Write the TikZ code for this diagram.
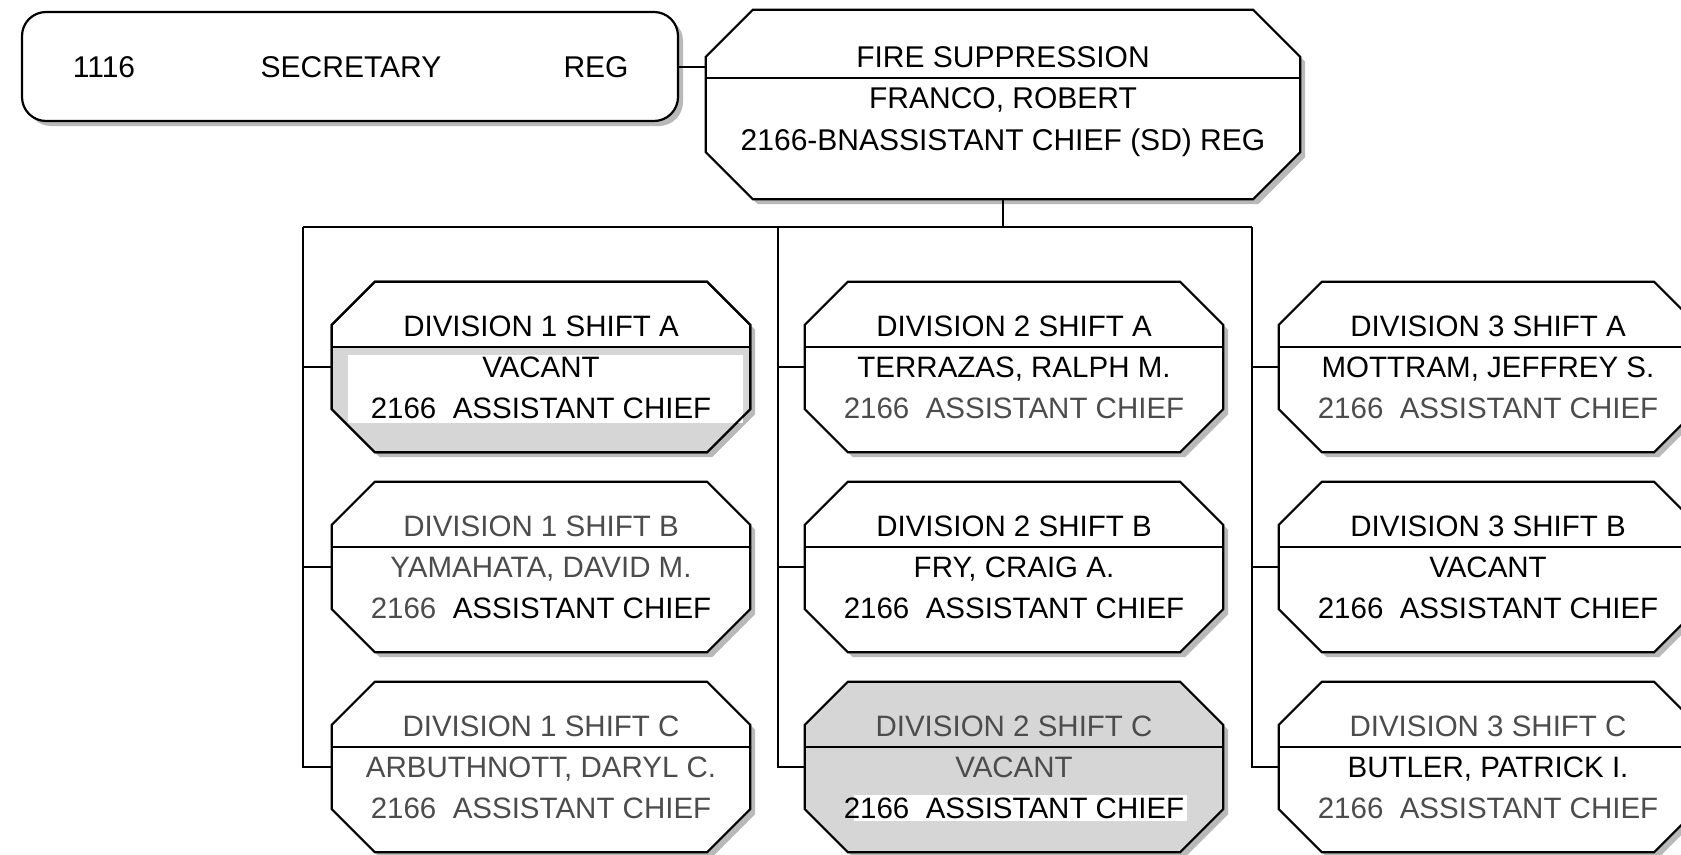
\documentclass[tikz,border=0pt]{standalone}
\usepackage{fontspec}
\setmainfont{Liberation Sans}
\usetikzlibrary{shadows}

\definecolor{inkgray}{gray}{0.3}
\definecolor{vacantgray}{gray}{0.84}

\tikzset{
  chart/.style={line width=2pt},
  boxshadow/.style={drop shadow={shadow xshift=5pt, shadow yshift=-5pt, opacity=1, fill=gray!55}},
  divframe/.style={inner sep=0pt, minimum width=418pt, minimum height=170pt},
  divtext/.style={inner sep=0pt, align=center, font=\fontsize{29.5}{41}\selectfont},
  toptext/.style={inner sep=0pt, align=center, font=\fontsize{30}{41.5}\selectfont},
  sectext/.style={inner sep=0pt, font=\fontsize{30}{36}\selectfont, text height=21pt, text depth=0pt},
  secbox/.style={draw, fill=white, line width=2.2pt, rounded corners=24pt, inner sep=0pt,
    minimum width=656pt, minimum height=109pt, boxshadow},
}

\newcommand{\octagon}[4][fill=white, boxshadow]{%
  \draw[line width=2.2pt, #1] ([xshift=#3]#2.north west) -- ([xshift=-#3]#2.north east)
    -- ([yshift=-#3]#2.north east) -- ([yshift=#3]#2.south east)
    -- ([xshift=-#3]#2.south east) -- ([xshift=#3]#2.south west)
    -- ([yshift=#3]#2.south west) -- ([yshift=-#3]#2.north west) -- cycle;
  \draw[line width=2pt] ([yshift=#4]#2.west) -- ([yshift=#4]#2.east);
}

\begin{document}
\begin{tikzpicture}[x=1pt,y=-1pt]
\path[use as bounding box, fill=white] (0,0) rectangle (1681,854);

\node[secbox] (sec) at (350,66.5) {};
\node[sectext] (secnum) at (104,66.5) {1116};
\node[sectext] (sectitle) at (351,66.5) {SECRETARY};
\node[sectext] (secreg) at (596,66.5) {REG};

\node[inner sep=0pt, minimum width=594pt, minimum height=189pt] (fire) at (1003,104.5) {};
\octagon{fire}{47pt}{26.5pt}
\node[toptext] (firet) at (1003,101.5) {FIRE SUPPRESSION\\FRANCO, ROBERT\\2166-BNASSISTANT CHIEF (SD) REG};

\node[divframe] (d1a) at (541,367) {};
\octagon{d1a}{43pt}{20pt}
\fill[vacantgray] ([yshift=20pt]d1a.west) -- ([yshift=20pt]d1a.east) -- ([yshift=43pt]d1a.south east)
  -- ([xshift=-43pt]d1a.south east) -- ([xshift=43pt]d1a.south west) -- ([yshift=43pt]d1a.south west) -- cycle;
\fill[white] (348,355) rectangle (743,423);
\octagon[]{d1a}{43pt}{20pt}
\node[divtext] (t1a) at (d1a.center) {DIVISION 1 SHIFT A\\VACANT\\2166\ \ ASSISTANT CHIEF};

\node[divframe] (d1b) at (541,567) {};
\octagon{d1b}{43pt}{20pt}
\node[divtext] (t1b) at (d1b.center) {\textcolor{inkgray}{DIVISION 1 SHIFT B}\\\textcolor{inkgray}{YAMAHATA, DAVID M.}\\\textcolor{inkgray}{2166}\ \ ASSISTANT CHIEF};

\node[divframe] (d1c) at (541,767) {};
\octagon{d1c}{43pt}{20pt}
\node[divtext, text=inkgray] (t1c) at (d1c.center) {DIVISION 1 SHIFT C\\ARBUTHNOTT, DARYL C.\\2166\ \ ASSISTANT CHIEF};

\node[divframe] (d2a) at (1014,367) {};
\octagon{d2a}{43pt}{20pt}
\node[divtext] (t2a) at (d2a.center) {DIVISION 2 SHIFT A\\TERRAZAS, RALPH M.\\\textcolor{inkgray}{2166\ \ ASSISTANT CHIEF}};

\node[divframe] (d2b) at (1014,567) {};
\octagon{d2b}{43pt}{20pt}
\node[divtext] (t2b) at (d2b.center) {DIVISION 2 SHIFT B\\FRY, CRAIG A.\\2166\ \ ASSISTANT CHIEF};

\node[divframe] (d2c) at (1014,767) {};
\octagon[fill=vacantgray, boxshadow]{d2c}{43pt}{20pt}
\fill[white] (854,795) rectangle (1187,821);
\node[divtext] (t2c) at (d2c.center) {\textcolor{inkgray}{DIVISION 2 SHIFT C}\\\textcolor{inkgray}{VACANT}\\2166\ \ ASSISTANT CHIEF};

\node[divframe] (d3a) at (1488,367) {};
\octagon{d3a}{43pt}{20pt}
\node[divtext] (t3a) at (d3a.center) {DIVISION 3 SHIFT A\\MOTTRAM, JEFFREY S.\\\textcolor{inkgray}{2166\ \ ASSISTANT CHIEF}};

\node[divframe] (d3b) at (1488,567) {};
\octagon{d3b}{43pt}{20pt}
\node[divtext] (t3b) at (d3b.center) {DIVISION 3 SHIFT B\\VACANT\\2166\ \ ASSISTANT CHIEF};

\node[divframe] (d3c) at (1488,767) {};
\octagon{d3c}{43pt}{20pt}
\node[divtext] (t3c) at (d3c.center) {\textcolor{inkgray}{DIVISION 3 SHIFT C}\\BUTLER, PATRICK I.\\\textcolor{inkgray}{2166\ \ ASSISTANT CHIEF}};

\coordinate (bus) at (1003,227);
\coordinate (bus1) at (303,227);
\coordinate (bus2) at (778,227);
\coordinate (bus3) at (1252,227);

\draw[chart] (sec.east) -- (sec.east -| fire.west);
\draw[chart] (fire.south) -- (bus);
\draw[chart] (bus1) -- (bus3);
\draw[chart] (bus1) |- (d1c.west);
\draw[chart] (bus1 |- d1a.west) -- (d1a.west);
\draw[chart] (bus1 |- d1b.west) -- (d1b.west);
\draw[chart] (bus2) |- (d2c.west);
\draw[chart] (bus2 |- d2a.west) -- (d2a.west);
\draw[chart] (bus2 |- d2b.west) -- (d2b.west);
\draw[chart] (bus3) |- (d3c.west);
\draw[chart] (bus3 |- d3a.west) -- (d3a.west);
\draw[chart] (bus3 |- d3b.west) -- (d3b.west);
\end{tikzpicture}
\end{document}
